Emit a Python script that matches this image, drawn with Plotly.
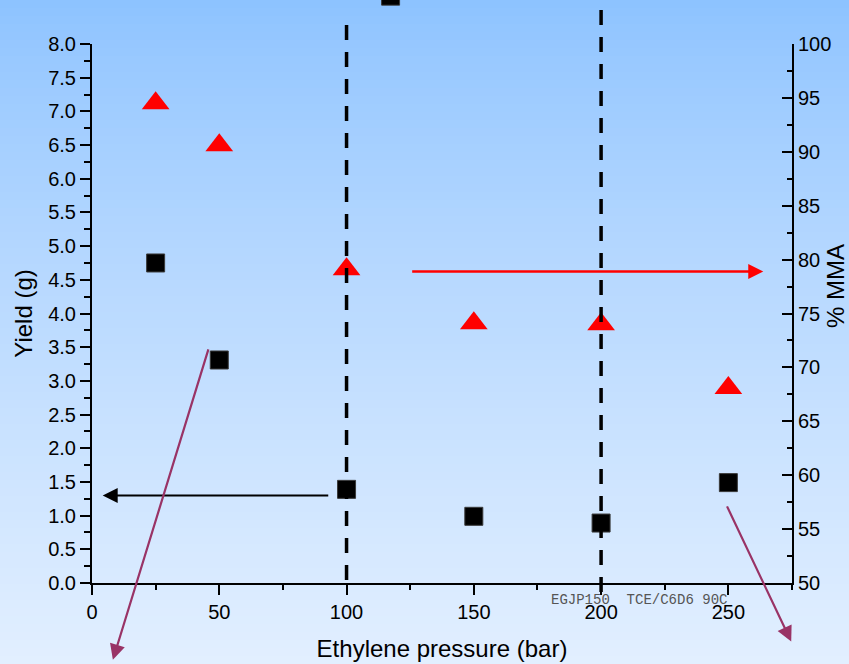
import plotly.graph_objects as go

# ---------------- data ----------------
pressure_bar = [25, 50, 100, 150, 200, 250]
yield_g = [4.75, 3.31, 1.39, 0.99, 0.89, 1.49]
mma_pct = [94.5, 90.6, 79.1, 74.1, 74.0, 68.1]

# partly visible square above the top of the chart (off the y range)
extra_pressure = [117.3]
extra_yield = [8.71]

x_ticks = [0, 50, 100, 150, 200, 250]
y_left_ticks = [0.0, 0.5, 1.0, 1.5, 2.0, 2.5, 3.0, 3.5, 4.0, 4.5, 5.0, 5.5, 6.0, 6.5, 7.0, 7.5, 8.0]
y_right_ticks = [50, 55, 60, 65, 70, 75, 80, 85, 90, 95, 100]

y_left_range = [0, 8]
y_right_range = [50, 100]
x_range = [0, 275]

guide_pressures = [100, 200]

# arrows: (head_x, head_y, tail_x, tail_y)
black_arrow = [4.2, 1.30, 93.4, 1.30]
red_arrow = [263.7, 78.9, 125.2, 78.9]
purple_arrow_1 = [8.2, -1.14, 45.9, 3.49]
purple_arrow_2 = [274.7, -0.87, 249.2, 1.16]

note_text = "EGJP150\u00a0\u00a0TCE/C6D6 90C"

# ---------------- layout constants ----------------
W, H = 849, 664
ML, MR, MT, MB = 92, 57, 44, 81
PW, PH = W - ML - MR, H - MT - MB
FONT = "Liberation Sans, Arial, sans-serif"
SQ = 18

fig = go.Figure()

fig.add_trace(go.Scatter(
    x=pressure_bar, y=yield_g, mode="markers", name="Yield",
    marker=dict(symbol="square", size=SQ, color="black",
                line=dict(color="#3a3a3a", width=1)),
    cliponaxis=False, showlegend=False))
fig.add_trace(go.Scatter(
    x=pressure_bar, y=mma_pct, mode="markers", name="% MMA", yaxis="y2",
    marker=dict(symbol="triangle-up", size=24, color="#ff0000",
                line=dict(color="#ff0000", width=0)),
    cliponaxis=False, showlegend=False))

# ---------------- background gradient ----------------
shapes = []
top_rgb = (140, 194, 255)
bot_rgb = (226, 239, 255)
n_bands = 83
band_px = H / n_bands
for i in range(n_bands):
    t = (i + 0.5) / n_bands
    g = t ** 0.8
    c = tuple(round(a + (b - a) * g) for a, b in zip(top_rgb, bot_rgb))
    y_top_px = i * band_px
    y_bot_px = (i + 1) * band_px + 0.6
    shapes.append(dict(
        type="rect", xref="paper", yref="paper", layer="below",
        x0=-ML / PW, x1=1 + MR / PW,
        y0=(MT + PH - y_top_px) / PH, y1=(MT + PH - y_bot_px) / PH,
        fillcolor="rgb(%d,%d,%d)" % c, line=dict(width=0)))

# dashed vertical guide lines
guide_tops_px = [25, 10]
for xp, top_px in zip(guide_pressures, guide_tops_px):
    shapes.append(dict(
        type="line", xref="x", yref="paper", layer="above",
        x0=xp, x1=xp,
        y0=(MT + PH - top_px) / PH, y1=-9 / PH,
        line=dict(color="black", width=3.5, dash="15px,12px")))

# off-range square (plotly hides out-of-range markers, so draw as a shape
# anchored on the x axis and the y axis fraction)
for xv, yv in zip(extra_pressure, extra_yield):
    frac = (yv - y_left_range[0]) / (y_left_range[1] - y_left_range[0])
    shapes.append(dict(
        type="rect", xref="x", yref="paper", layer="above",
        xsizemode="pixel", ysizemode="pixel",
        xanchor=xv, yanchor=frac,
        x0=-SQ / 2, x1=SQ / 2, y0=-SQ / 2, y1=SQ / 2,
        fillcolor="black", line=dict(color="#3a3a3a", width=1)))

# ---------------- annotations ----------------
annotations = []


def arrow(spec, color, width, size, yref="y"):
    hx, hy, tx, ty = spec
    return dict(x=hx, y=hy, ax=tx, ay=ty, xref="x", yref=yref,
                axref="x", ayref=yref, text="", showarrow=True,
                arrowhead=2, arrowsize=size, arrowwidth=width,
                arrowcolor=color, standoff=0)


annotations.append(arrow(black_arrow, "black", 2, 1.5))
annotations.append(arrow(red_arrow, "#ff0000", 2.5, 1.2, yref="y2"))
annotations.append(arrow(purple_arrow_1, "#993366", 2.2, 1.4))
annotations.append(arrow(purple_arrow_2, "#993366", 2.2, 1.4))

annotations.append(dict(
    text="% MMA", xref="paper", yref="paper",
    x=(835 - ML) / PW, y=(MT + PH - 286) / PH, textangle=-90,
    showarrow=False, xanchor="center", yanchor="middle",
    font=dict(family=FONT, size=24, color="black")))

annotations.append(dict(
    text=note_text, xref="paper", yref="paper",
    x=(639 - ML) / PW, y=(MT + PH - 600) / PH,
    showarrow=False, xanchor="center", yanchor="middle",
    font=dict(family="Liberation Mono, Courier New, monospace", size=14,
              color="#555555")))

axis_common = dict(
    showgrid=False, zeroline=False, showline=True, linecolor="black",
    linewidth=2, tickcolor="black", tickwidth=2, ticklen=10,
    automargin=False,
    tickfont=dict(family=FONT, size=20, color="black"))

fig.update_layout(
    width=W, height=H,
    margin=dict(l=ML, r=MR, t=MT, b=MB, pad=0, autoexpand=False),
    paper_bgcolor="rgb(190,220,255)",
    plot_bgcolor="rgba(0,0,0,0)",
    font=dict(family=FONT, color="black"),
    showlegend=False,
    shapes=shapes,
    annotations=annotations,
    xaxis=dict(
        range=x_range, tickvals=x_ticks, ticks="outside",
        minor=dict(dtick=25, tick0=0, ticks="outside", ticklen=5,
                   tickwidth=2, tickcolor="black"),
        title=dict(text="Ethylene pressure (bar)", standoff=18,
                   font=dict(family=FONT, size=24, color="black")),
        **axis_common),
    yaxis=dict(
        range=y_left_range, tickvals=y_left_ticks, tickformat=".1f",
        ticks="outside",
        minor=dict(dtick=0.25, tick0=0, ticks="outside", ticklen=6,
                   tickwidth=2, tickcolor="black"),
        title=dict(text="Yield (g)", standoff=9,
                   font=dict(family=FONT, size=24, color="black")),
        **axis_common),
    yaxis2=dict(
        range=y_right_range, tickvals=y_right_ticks, overlaying="y",
        side="right", ticks="inside", anchor="x",
        minor=dict(dtick=2.5, tick0=50, ticks="inside", ticklen=5,
                   tickwidth=2, tickcolor="black"),
        **axis_common),
)

fig.write_html(
    "out.html",
    config={"displayModeBar": False},
    post_script="document.body.style.margin='0';"
                "document.body.style.overflow='hidden';",
)
